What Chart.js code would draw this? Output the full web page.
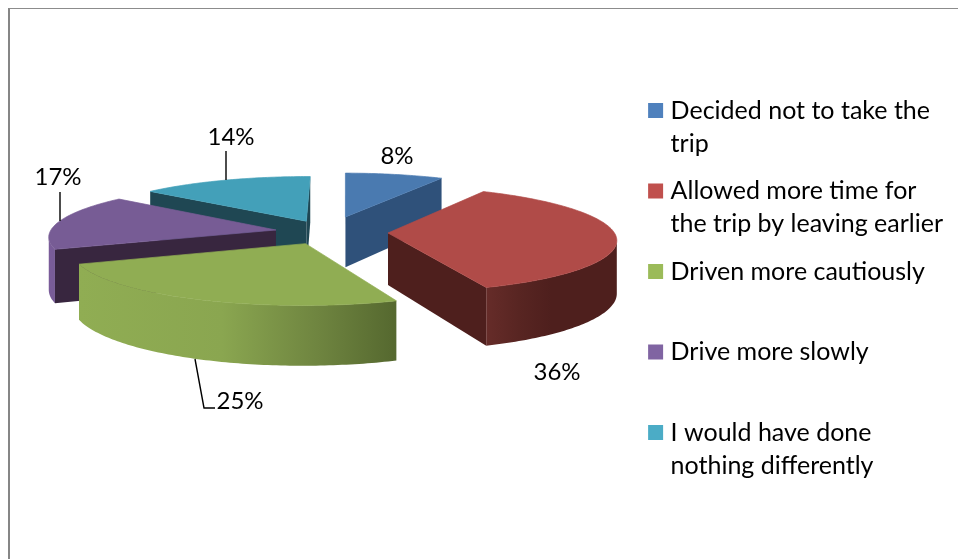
<!DOCTYPE html>
<html>
<head>
<meta charset="utf-8">
<style>
html,body{margin:0;padding:0;background:#fff;width:958px;height:559px;overflow:hidden}
#wrap{position:absolute;left:0;top:0;width:958px;height:559px}
#frame{position:absolute;left:8px;top:8px;right:0;bottom:0;border-left:2px solid #868686;border-top:1.5px solid #8c8c8c;pointer-events:none}
canvas{position:absolute;left:0;top:0}
</style>
<script src="https://cdn.jsdelivr.net/npm/chart.js@4"></script>
</head>
<body>
<div id="wrap"><canvas id="c" width="958" height="559"></canvas><div id="frame"></div></div>
<script>
const categories = ["Decided not to take the trip","Allowed more time for the trip by leaving earlier","Driven more cautiously","Drive more slowly","I would have done nothing differently"];
const legendLines = [["Decided not to take the","trip"],["Allowed more time for","the trip by leaving earlier"],["Driven more cautiously",""],["Drive more slowly",""],["I would have done","nothing differently"]];
const values = [8,36,25,17,14];
const legendColors = ["#4f81bd","#c0504d","#9bbb59","#8064a2","#4bacc6"];
const topColors = ["#4a7ab0","#b04b48","#90ad53","#775c95","#43a0b9"];
const cutColors = ["#2f517a","#4e1f1d","#55682f","#38263f","#1f4753"];
const explode = [70,60,54,53,53];
const sideStops = [
  [[0,"#2f517a"],[1,"#2f517a"]],
  [[0,"#662c29"],[0.25,"#582522"],[0.5,"#4e1f1d"],[1,"#4e1f1d"]],
  [[0,"#90ad53"],[0.45,"#8aa650"],[0.75,"#6f8540"],[1,"#55682f"]],
  [[0,"#7a5c9a"],[1,"#775c95"]],
  [[0,"#43a0b9"],[1,"#43a0b9"]]
];
const labelAnchors = [[397,156],[557,372],[240,401],[58,177],[231,137]];
const leaderLines = [[],[],[[195,359],[204,408],[215,408]],[[60,192],[60,221]],[[226,151],[226,180]]];

const pie3d = {
  id:'pie3d',
  beforeDatasetDraw(chart,args,o){
    const ctx = chart.ctx;
    const arcs = chart.getDatasetMeta(0).data.map((arc,i)=>({arc,i,mid:(arc.startAngle+arc.endAngle)/2}));
    arcs.sort((a,b)=>Math.sin(a.mid)-Math.sin(b.mid));
    const project = (x,y,z)=>{
      const s = 1/(1-o.persp*y);
      return [o.cx + x*s, o.cy + (y*o.tilt + z)*s];
    };
    const poly = (pts,fill,seal)=>{
      ctx.beginPath();
      pts.forEach((p,j)=> j?ctx.lineTo(p[0],p[1]):ctx.moveTo(p[0],p[1]));
      ctx.closePath();
      ctx.fillStyle=fill;
      ctx.fill();
      if(seal){ ctx.strokeStyle=fill; ctx.lineWidth=0.7; ctx.lineJoin='round'; ctx.stroke(); }
    };
    const area = q=>{let a=0;q.forEach((p,j)=>{const n=q[(j+1)%q.length];a+=p[0]*n[1]-n[0]*p[1];});return a;};
    for(const {arc,i,mid} of arcs){
      const off = arc.options.offset, R = arc.outerRadius, d=o.depth;
      const ax = Math.cos(mid)*off, ay = Math.sin(mid)*off;
      const steps = Math.max(8,Math.round((arc.endAngle-arc.startAngle)*60));
      const ring = [];
      for(let j=0;j<=steps;j++){
        const t = arc.startAngle+(arc.endAngle-arc.startAngle)*j/steps;
        ring.push([ax+Math.cos(t)*R, ay+Math.sin(t)*R]);
      }
      const topRing = ring.map(p=>project(p[0],p[1],0));
      const botRing = ring.map(p=>project(p[0],p[1],d));
      const aTop = project(ax,ay,0), aBot = project(ax,ay,d);
      // cut faces
      const startFace = [aTop,topRing[0],botRing[0],aBot];
      if(area(startFace)<0) poly(startFace,cutColors[i]);
      const endFace = [topRing[steps],aTop,aBot,botRing[steps]];
      if(area(endFace)<0) poly(endFace,cutColors[i]);
      // outer wall: one merged band over the visible run of the rim
      let first=-1,last=-1;
      for(let j=0;j<steps;j++){
        const q=[topRing[j],topRing[j+1],botRing[j+1],botRing[j]];
        if(area(q)<0){ if(first<0) first=j; last=j+1; }
      }
      if(first>=0){
        const upper = topRing.slice(first,last+1), lower = botRing.slice(first,last+1).reverse();
        const xs = upper.concat(lower).map(p=>p[0]);
        const grad = ctx.createLinearGradient(Math.min(...xs),0,Math.max(...xs),0);
        sideStops[i].forEach(s=>grad.addColorStop(s[0],s[1]));
        poly(upper.concat(lower),grad);
      }
      // top face
      poly([aTop,...topRing],topColors[i],true);
    }
    return false;
  },
  afterDatasetsDraw(chart){
    const ctx = chart.ctx;
    ctx.save();
    ctx.strokeStyle='#000'; ctx.lineWidth=1.4;
    leaderLines.forEach(l=>{
      if(!l.length) return;
      ctx.beginPath();
      l.forEach((p,j)=> j?ctx.lineTo(p[0],p[1]):ctx.moveTo(p[0],p[1]));
      ctx.stroke();
    });
    ctx.fillStyle='#000'; ctx.font='24px Lato'; ctx.textAlign='center'; ctx.textBaseline='middle';
    values.forEach((v,i)=>ctx.fillText(v+'%',labelAnchors[i][0],labelAnchors[i][1]));
    ctx.restore();
  }
};

new Chart(document.getElementById('c'),{
  type:'pie',
  data:{labels:categories,datasets:[{data:values,backgroundColor:legendColors,offset:explode,borderWidth:0}]},
  plugins:[pie3d],
  options:{
    responsive:false,animation:false,radius:226,rotation:0.5,
    layout:{padding:{left:16,top:25,right:5}},
    plugins:{
      tooltip:{enabled:false},
      pie3d:{cx:328,cy:232,tilt:0.23,persp:0.0005,depth:52},
      legend:{
        position:'right',
        labels:{
          usePointStyle:true,boxWidth:5,boxHeight:15,padding:14.5,color:'#000',
          font:{family:'Lato',size:25,lineHeight:'33px'},
          generateLabels(){
            return legendLines.map((t,i)=>({text:t,fillStyle:legendColors[i],strokeStyle:legendColors[i],lineWidth:0,pointStyle:'rect',hidden:false,index:i,fontColor:'#000'}));
          }
        }
      }
    }
  }
});
</script>
</body>
</html>
